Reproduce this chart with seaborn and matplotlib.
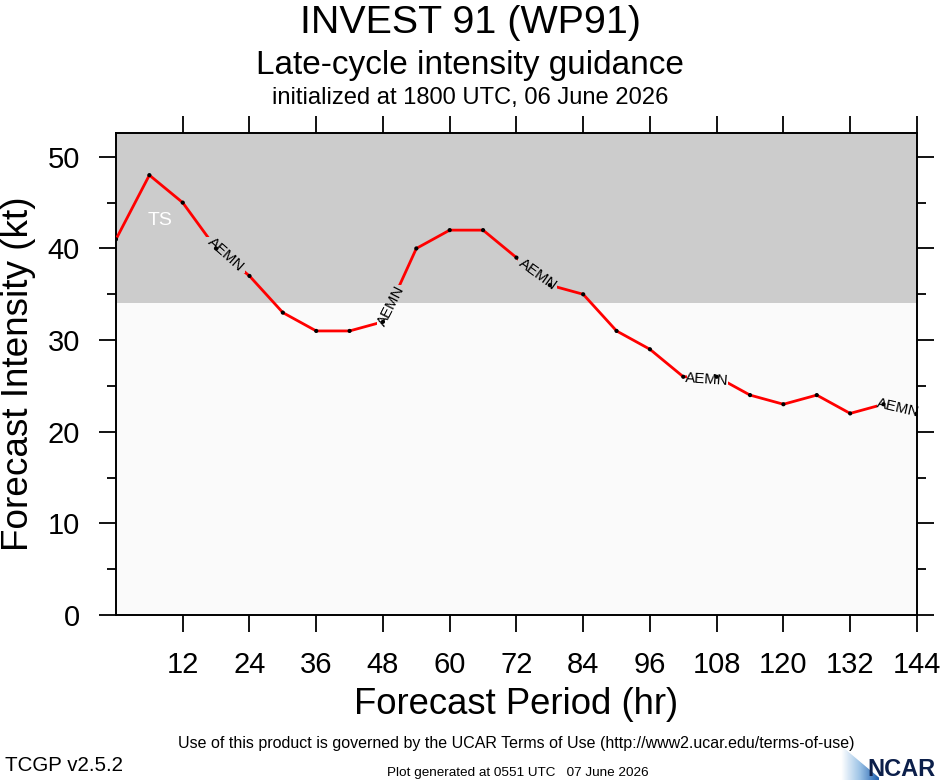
import numpy as np
import pandas as pd
import matplotlib
matplotlib.use('Agg')
import matplotlib.pyplot as plt
import seaborn as sns
from matplotlib.path import Path
from matplotlib.transforms import IdentityTransform
from matplotlib.colors import LinearSegmentedColormap

# Forecast data (AEMN, late-cycle intensity guidance)
hours = list(range(0, 145, 6))
intensity = [41, 48, 45, 40, 37, 33, 31, 31, 32, 40, 42, 42, 39,
             36, 35, 31, 29, 26, 26, 24, 23, 24, 22, 23, 22]
model_name = 'AEMN'

# where the model name sits along the line
label_hours = [19.7, 49.5, 75.8, 106.3, 140.6]
label_kt = [39.3, 33.7, 37.2, 25.7, 22.6]
label_angles = [-42, 63, -36, -4, -13]

ts_threshold = 34
x_ticks = list(range(12, 145, 12))
y_ticks = [0, 10, 20, 30, 40, 50]

df = pd.DataFrame({'hour': hours, 'kt': intensity})

sns.set_theme(style='white')
plt.rcParams['font.family'] = ['Liberation Sans', 'DejaVu Sans']
plt.rcParams['text.color'] = 'black'
plt.rcParams['axes.labelcolor'] = 'black'
plt.rcParams['xtick.color'] = 'black'
plt.rcParams['ytick.color'] = 'black'

fig = plt.figure(figsize=(9.4, 7.8), dpi=100)
ax = fig.add_axes([0.1234, 0.2115, 0.852, 0.618])

ax.set_facecolor('#fafafa')
ax.axhspan(ts_threshold, 60, color='#cccccc', zorder=0, lw=0)

sns.lineplot(data=df, x='hour', y='kt', color='#ff0000', linewidth=2.0, ax=ax, zorder=3)
line = ax.lines[-1]
sns.scatterplot(data=df, x='hour', y='kt', color='black', s=9, edgecolor='none', ax=ax, zorder=4)

ax.text(7.9, 43.1, 'TS', color='white', fontsize=14, ha='center', va='center')

labels = []
for h, k, a in zip(label_hours, label_kt, label_angles):
    t = ax.text(h, k, model_name, fontsize=10.8, rotation=a, rotation_mode='anchor',
                ha='center', va='center', color='black', zorder=5)
    labels.append(t)

ax.set_xlim(0, 144)
ax.set_ylim(0, 52.6)
ax.set_xticks(x_ticks)
ax.set_yticks(y_ticks)
ax.set_yticks([5, 15, 25, 35, 45], minor=True)
ax.tick_params(axis='both', which='major', direction='out', length=12, width=1.3,
               labelsize=21, pad=14, bottom=True, left=True, top=True, right=True)
ax.tick_params(axis='y', which='minor', direction='out', length=6.5, width=1.3,
               left=True, right=True)
for s in ax.spines.values():
    s.set_color('black')
    s.set_linewidth(1.4)

ax.set_xlabel('Forecast Period (hr)', fontsize=26.3, labelpad=6)
ax.set_ylabel('Forecast Intensity (kt)', fontsize=26.6, labelpad=8)

fig.text(0.5, 0.971, 'INVEST 91 (WP91)', fontsize=28.4, ha='center', va='center')
fig.text(0.5, 0.916, 'Late-cycle intensity guidance', fontsize=24, ha='center', va='center')
fig.text(0.5, 0.874, 'initialized at 1800 UTC, 06 June 2026', fontsize=17.1, ha='center', va='center')

fig.text(0.549, 0.047, 'Use of this product is governed by the UCAR Terms of Use (http://www2.ucar.edu/terms-of-use)',
         fontsize=11.5, ha='center', va='center')
fig.text(0.005, 0.019, 'TCGP v2.5.2', fontsize=14.8, ha='left', va='center')
fig.text(0.551, 0.009, 'Plot generated at 0551 UTC   07 June 2026', fontsize=9.7, ha='center', va='center')
fig.text(0.995, 0.014, 'NCAR', fontsize=17, ha='right', va='center', color='#0c1f4a', fontweight='bold')

# little swoosh next to the logo text
lax = fig.add_axes([0.895, 0.0, 0.04, 0.045])
grad = np.linspace(0, 1, 50).reshape(1, -1)
cmap = LinearSegmentedColormap.from_list('sw', ['#ffffff', '#9cc3e6', '#1f5fae'])
lax.imshow(np.vstack([grad] * 10), cmap=cmap, aspect='auto', extent=[0, 1, 0, 1])
lax.fill_between([0, 1], [1, 0.1], [1.2, 1.2], color='white')
lax.set_xlim(0, 1)
lax.set_ylim(0, 1)
lax.axis('off')

# cut gaps in the line where the model name sits
fig.canvas.draw()
renderer = fig.canvas.get_renderer()
axbb = ax.get_window_extent(renderer)
verts = [(axbb.x0, axbb.y0), (axbb.x1, axbb.y0), (axbb.x1, axbb.y1), (axbb.x0, axbb.y1), (axbb.x0, axbb.y0)]
codes = [Path.MOVETO, Path.LINETO, Path.LINETO, Path.LINETO, Path.CLOSEPOLY]
for t in labels:
    b = t.get_window_extent(renderer).expanded(0.92, 0.92)
    verts += [(b.x0, b.y0), (b.x0, b.y1), (b.x1, b.y1), (b.x1, b.y0), (b.x0, b.y0)]
    codes += [Path.MOVETO, Path.LINETO, Path.LINETO, Path.LINETO, Path.CLOSEPOLY]
line.set_clip_path(Path(verts, codes), IdentityTransform())

fig.savefig('out.png', dpi=100)
